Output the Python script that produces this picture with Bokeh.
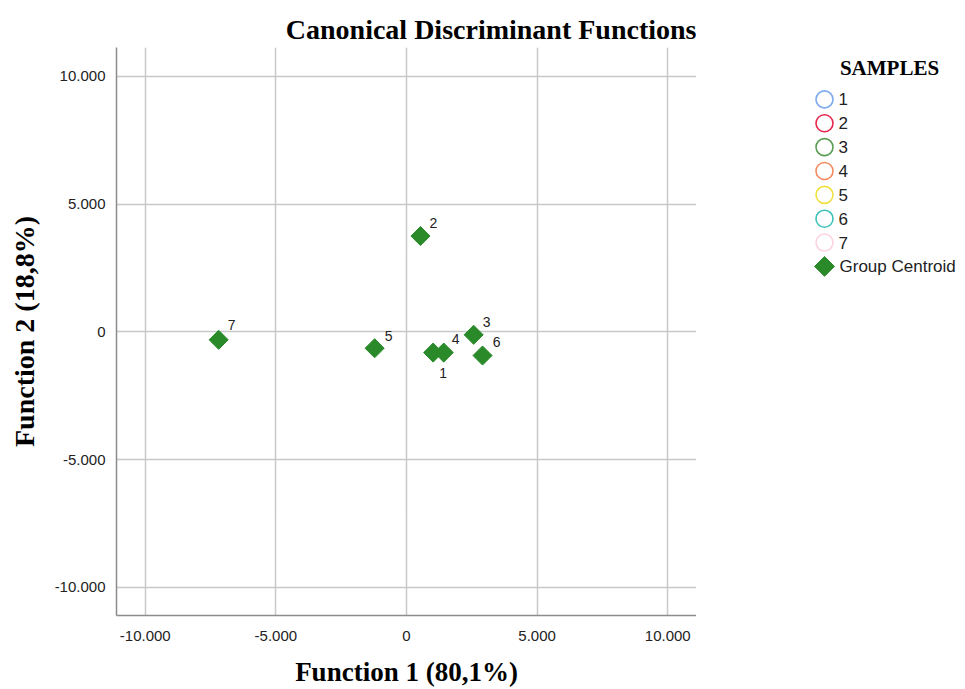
from bokeh.plotting import figure
from bokeh.models import ColumnDataSource, FixedTicker, Range1d
from bokeh.layouts import row
from bokeh.core.properties import value
from bokeh.embed import file_html
from bokeh.resources import INLINE

# Data
groups = ["1", "2", "3", "4", "5", "6", "7"]
centroid_x = [1020, 535, 2570, 1425, -1220, 2910, -7190]
centroid_y = [-810, 3750, -115, -810, -640, -925, -310]
group_colors = ["#7eaaee", "#e6284f", "#5a9e55", "#f58a5f", "#f0e040", "#3fc2b8", "#fcd3e4"]
tick_values = [-10000, -5000, 0, 5000, 10000]
tick_labels = ["-10.000", "-5.000", "0", "5.000", "10.000"]
legend_title = "SAMPLES"
centroid_label = "Group Centroid"
centroid_color = "#2a8a2a"
# label offsets in px (style)
lab_dx = [10, 13, 13, 12, 14, 14, 13]
lab_dy = [20, -13, -13, -14, -12, -14, -15]

W, H = 965, 689
PLOT_W = 696
TOP, BOTTOM = 47, 73

p = figure(width=PLOT_W, height=H, output_backend="svg", toolbar_location=None,
           x_range=Range1d(-11100, 11100), y_range=Range1d(-11100, 11130),
           min_border_left=116, min_border_right=0, min_border_top=TOP, min_border_bottom=BOTTOM)

p.title.text = "Canonical Discriminant Functions"
p.title.align = "right"
p.title.text_font = "Liberation Serif"
p.title.text_font_size = "28px"
p.title.text_font_style = "bold"
p.title.text_color = "#000000"
p.title.offset = 0
p.title.standoff = 6

p.outline_line_color = None
p.background_fill_color = "white"

for ax in (p.xaxis[0], p.yaxis[0]):
    ax.ticker = FixedTicker(ticks=tick_values)
    ax.major_label_overrides = {v: l for v, l in zip(tick_values, tick_labels)}
    ax.major_tick_line_color = None
    ax.minor_tick_line_color = None
    ax.axis_line_color = "#8c8c8c"
    ax.axis_line_width = 1.5
    ax.major_label_text_font = "Liberation Sans"
    ax.major_label_text_font_size = "15px"
    ax.major_label_text_color = "#222222"
    ax.axis_label_text_font = "Liberation Serif"
    ax.axis_label_text_font_style = "bold"
    ax.axis_label_text_color = "#000000"

p.xaxis.axis_label = "Function 1 (80,1%)"
p.yaxis.axis_label = "Function 2 (18,8%)"
p.xaxis.axis_label_text_font_size = "27px"
p.yaxis.axis_label_text_font_size = "28px"
p.xaxis.major_label_standoff = 9
p.yaxis.major_label_standoff = 5
p.xaxis.axis_label_standoff = 13
p.yaxis.axis_label_standoff = 12

p.xgrid.grid_line_color = "#c8c8c8"
p.ygrid.grid_line_color = "#c8c8c8"
p.xgrid.grid_line_width = 1.5
p.ygrid.grid_line_width = 1.5

# centroids
src = ColumnDataSource(dict(x=centroid_x, y=centroid_y, g=groups, dx=lab_dx, dy=lab_dy))
p.scatter("x", "y", source=src, marker="square", angle=0.785398, size=13.5,
          fill_color=centroid_color, line_color=centroid_color)
p.text("x", "y", text="g", source=src, x_offset="dx", y_offset="dy",
       text_font=value("Liberation Sans"), text_font_size="14px", text_color="#222222",
       text_align="center", text_baseline="middle")

# ---- legend panel (separate figure; data coords equal page pixels) ----
LW = W - PLOT_W
leg = figure(width=LW, height=H, output_backend="svg", toolbar_location=None,
             x_range=Range1d(PLOT_W, W), y_range=Range1d(H - BOTTOM, TOP),
             min_border_left=0, min_border_right=0, min_border_top=TOP,
             min_border_bottom=BOTTOM, outline_line_color=None)
leg.axis.visible = False
leg.grid.visible = False

row0, pitch = 99, 23.9
glyph_x, text_x = 824, 839
n = len(groups)
ys = [row0 + i * pitch for i in range(n)]
lsrc = ColumnDataSource(dict(x=[glyph_x] * n, y=ys, c=group_colors, t=[text_x - 1] * n, g=groups))
leg.scatter("x", "y", source=lsrc, marker="circle", size=17, fill_color=None,
            line_color="c", line_width=1.6)
leg.text("t", "y", text="g", source=lsrc, text_font=value("Liberation Sans"),
         text_font_size="17px", text_color="#222222", text_align="left",
         text_baseline="middle")
cy = row0 + n * pitch
leg.scatter([glyph_x], [cy], marker="square", angle=0.785398, size=14,
            fill_color=centroid_color, line_color=centroid_color)
leg.text([text_x], [cy], text=[centroid_label], text_font=value("Liberation Sans"),
         text_font_size="17px", text_color="#222222", text_align="left",
         text_baseline="middle")
leg.text([889], [68], text=[legend_title], text_font=value("Liberation Serif"),
         text_font_style="bold", text_font_size="21px", text_color="#000000",
         text_align="center", text_baseline="middle")

layout = row(p, leg, spacing=0)
open("out.html", "w").write(file_html(layout, INLINE))
